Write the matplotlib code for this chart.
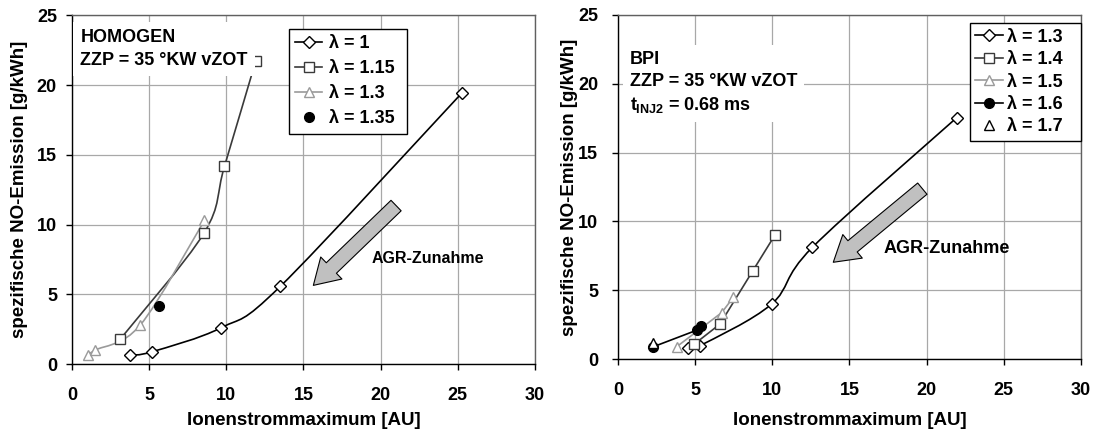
import numpy as np
import matplotlib
matplotlib.use("Agg")
import matplotlib.pyplot as plt
from matplotlib.path import Path
from matplotlib.patches import PathPatch, FancyArrowPatch
from matplotlib.lines import Line2D

plt.rcParams['font.family'] = ['Liberation Sans', 'DejaVu Sans']
plt.rcParams['font.weight'] = 'bold'
plt.rcParams['mathtext.fontset'] = 'custom'
plt.rcParams['mathtext.rm'] = 'Liberation Sans:bold'
plt.rcParams['mathtext.it'] = 'Liberation Sans:bold'
plt.rcParams['mathtext.bf'] = 'Liberation Sans:bold'

# --- data: left panel (HOMOGEN) ---
hom_l100_x = [3.77, 5.18, 9.66, 13.5, 25.24]
hom_l100_y = [0.64, 0.88, 2.6, 5.57, 19.4]
hom_l115_x = [3.13, 8.56, 9.88, 11.9]
hom_l115_y = [1.79, 9.4, 14.17, 21.7]
hom_l130_x = [1.01, 1.51, 4.42, 8.58]
hom_l130_y = [0.64, 1.0, 2.79, 10.29]
hom_l135_x = [5.63]
hom_l135_y = [4.17]

# --- data: right panel (BPI) ---
bpi_l130_x = [4.52, 5.31, 9.96, 12.6, 21.95]
bpi_l130_y = [0.82, 0.97, 4.0, 8.12, 17.54]
bpi_l140_x = [4.93, 6.61, 8.73, 10.17]
bpi_l140_y = [1.07, 2.54, 6.4, 9.01]
bpi_l150_x = [3.80, 6.72, 7.47]
bpi_l150_y = [0.89, 3.37, 4.48]
bpi_l160_x = [2.29, 5.14, 5.38]
bpi_l160_y = [0.89, 2.11, 2.42]
bpi_l170_x = [2.29]
bpi_l170_y = [1.18]

x_ticks = [0, 5, 10, 15, 20, 25, 30]
y_ticks = [0, 5, 10, 15, 20, 25]

GRAY = '#9a9a9a'
DARK = '#3a3a3a'


def smooth_path(x, y):
    # Excel-like smoothed line (Catmull-Rom as cubic Bezier)
    pts = np.column_stack([x, y]).astype(float)
    n = len(pts)
    verts = [pts[0]]
    codes = [Path.MOVETO]
    for i in range(n - 1):
        p0 = pts[max(i - 1, 0)]
        p1 = pts[i]
        p2 = pts[i + 1]
        p3 = pts[min(i + 2, n - 1)]
        verts += [p1 + (p2 - p0) / 6, p2 - (p3 - p1) / 6, p2]
        codes += [Path.CURVE4] * 3
    return Path(verts, codes)


def draw_series(ax, x, y, label, marker, ms, mfc, mec, color, line):
    if line == 'smooth':
        ax.add_patch(PathPatch(smooth_path(x, y), fill=False, ec=color, lw=1.2, zorder=2))
    elif line == 'straight':
        ax.plot(x, y, color=color, lw=1.2, zorder=2)
    ax.plot(x, y, ls='none', marker=marker, ms=ms, mfc=mfc, mec=mec, mew=1.0, zorder=3)
    return Line2D([], [], color=color, lw=1.2, ls='-' if line else 'none',
                  marker=marker, ms=ms, mfc=mfc, mec=mec, mew=1.0), label


def style_axes(ax, ypad):
    ax.set_xlim(0, 30)
    ax.set_ylim(0, 25)
    ax.set_xticks(x_ticks)
    ax.set_yticks(y_ticks)
    ax.grid(True, color='#a8a8a8', lw=0.9)
    ax.set_axisbelow(True)
    for s in ['top', 'right']:
        ax.spines[s].set_color('#606060')
        ax.spines[s].set_linewidth(1.0)
    for s in ['left', 'bottom']:
        ax.spines[s].set_color('black')
        ax.spines[s].set_linewidth(1.0)
    ax.tick_params(axis='x', direction='out', length=4.3, width=1, labelsize=13, pad=12)
    ax.tick_params(axis='y', direction='out', length=4.1, width=1, labelsize=13, pad=ypad)
    for lab in ax.get_xticklabels() + ax.get_yticklabels():
        lab.set_fontweight('bold')
    ax.set_xlabel('Ionenstrommaximum [AU]', fontsize=13.5, fontweight='bold')
    ax.set_ylabel('spezifische NO-Emission [g/kWh]', fontsize=13.5, fontweight='bold')


def agr_arrow(ax, tail, tip):
    ax.add_patch(FancyArrowPatch(tail, tip,
                                 arrowstyle='simple,head_length=1.8,head_width=2.2,tail_width=1.05',
                                 mutation_scale=10, fc='#c0c0c0', ec='black', lw=0.8,
                                 shrinkA=0, shrinkB=0, zorder=4))


fig = plt.figure(figsize=(10.94, 4.36), dpi=100)
ax1 = fig.add_axes([0.0658, 0.165, 0.4232, 0.800])
ax2 = fig.add_axes([0.5649, 0.1766, 0.4232, 0.789])

# left panel
h = []
h.append(draw_series(ax1, hom_l100_x, hom_l100_y, 'λ = 1', 'D', 5.8, 'white', 'black', 'black', 'smooth'))
h.append(draw_series(ax1, hom_l115_x, hom_l115_y, 'λ = 1.15', 's', 6.8, 'white', DARK, DARK, 'smooth'))
h.append(draw_series(ax1, hom_l130_x, hom_l130_y, 'λ = 1.3', '^', 7, 'white', GRAY, GRAY, 'smooth'))
h.append(draw_series(ax1, hom_l135_x, hom_l135_y, 'λ = 1.35', 'o', 7, 'black', 'black', 'black', None))
style_axes(ax1, 6.7)
ax1.xaxis.set_label_coords(0.5, -0.1375)
ax1.yaxis.set_label_coords(-0.094, 0.5)
leg = ax1.legend([a for a, b in h], [b for a, b in h], loc='upper left',
                 bbox_to_anchor=(0.468, 0.677, 0.2555, 0.285), mode='expand', borderaxespad=0,
                 fontsize=13, fancybox=False, edgecolor='black', framealpha=1,
                 handlelength=1.5, handletextpad=0.4, labelspacing=0.45, borderpad=0.35)
leg.get_frame().set_linewidth(1.0)
ax1.text(0.018, 0.96, 'HOMOGEN\nZZP = 35 °KW vZOT', transform=ax1.transAxes,
         ha='left', va='top', fontsize=13, fontweight='bold', linespacing=1.45,
         bbox=dict(fc='white', ec='none', pad=5), zorder=6)
agr_arrow(ax1, (21.0, 11.36), (15.64, 5.64))
ax1.text(19.4, 7.57, 'AGR-Zunahme', ha='left', va='center', fontsize=11.5, fontweight='bold', zorder=6)

# right panel
h = []
h.append(draw_series(ax2, bpi_l130_x, bpi_l130_y, 'λ = 1.3', 'D', 5.8, 'white', 'black', 'black', 'smooth'))
h.append(draw_series(ax2, bpi_l140_x, bpi_l140_y, 'λ = 1.4', 's', 6.8, 'white', DARK, DARK, 'straight'))
h.append(draw_series(ax2, bpi_l150_x, bpi_l150_y, 'λ = 1.5', '^', 7, 'white', GRAY, GRAY, 'straight'))
h.append(draw_series(ax2, bpi_l160_x, bpi_l160_y, 'λ = 1.6', 'o', 7, 'black', 'black', 'black', 'straight'))
h.append(draw_series(ax2, bpi_l170_x, bpi_l170_y, 'λ = 1.7', '^', 7, 'white', 'black', 'black', None))
style_axes(ax2, 10.3)
ax2.xaxis.set_label_coords(0.5, -0.154)
ax2.yaxis.set_label_coords(-0.0864, 0.5)
leg = ax2.legend([a for a, b in h], [b for a, b in h], loc='upper left',
                 bbox_to_anchor=(0.760, 0.627, 0.240, 0.349), mode='expand', borderaxespad=0,
                 fontsize=13, fancybox=False, edgecolor='black', framealpha=1,
                 handlelength=1.55, handletextpad=0.2, labelspacing=0.3, borderpad=0.3)
leg.get_frame().set_linewidth(1.0)
ax2.text(0.026, 0.895, 'BPI\nZZP = 35 °KW vZOT\n$t_{INJ2}$ = 0.68 ms', transform=ax2.transAxes,
         ha='left', va='top', fontsize=13, fontweight='bold', linespacing=1.35,
         bbox=dict(fc='white', ec='none', pad=5), zorder=6)
agr_arrow(ax2, (19.72, 12.38), (13.95, 7.03))
ax2.text(17.2, 8.04, 'AGR-Zunahme', ha='left', va='center', fontsize=13, fontweight='bold', zorder=6)

fig.savefig('out.png', dpi=100)
